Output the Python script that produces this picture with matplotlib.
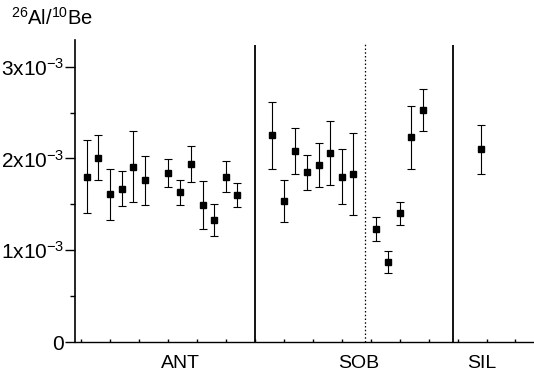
import matplotlib.pyplot as plt
import numpy as np

plt.rcParams['font.family'] = ['Liberation Sans', 'DejaVu Sans']
plt.rcParams['mathtext.fontset'] = 'custom'
plt.rcParams['mathtext.rm'] = 'Liberation Sans'
plt.rcParams['mathtext.default'] = 'regular'

# 26Al/10Be ratios with 1-sigma errors, grouped by site
ant_x = [1, 2, 3, 4, 5, 6, 8, 9, 10, 11, 12, 13, 14]
ant_y = [1.80e-3, 2.01e-3, 1.61e-3, 1.67e-3, 1.91e-3, 1.76e-3, 1.84e-3,
         1.63e-3, 1.94e-3, 1.49e-3, 1.33e-3, 1.80e-3, 1.60e-3]
ant_err = [0.40e-3, 0.25e-3, 0.28e-3, 0.19e-3, 0.39e-3, 0.27e-3, 0.15e-3,
           0.14e-3, 0.20e-3, 0.26e-3, 0.17e-3, 0.17e-3, 0.13e-3]

sob_x = [17, 18, 19, 20, 21, 22, 23, 24, 26, 27, 28, 29, 30]
sob_y = [2.25e-3, 1.54e-3, 2.08e-3, 1.85e-3, 1.93e-3, 2.06e-3, 1.80e-3,
         1.83e-3, 1.23e-3, 0.875e-3, 1.40e-3, 2.23e-3, 2.53e-3]
sob_err = [0.36e-3, 0.23e-3, 0.25e-3, 0.19e-3, 0.24e-3, 0.35e-3, 0.30e-3,
           0.445e-3, 0.134e-3, 0.12e-3, 0.127e-3, 0.34e-3, 0.23e-3]

sil_x = [35]
sil_y = [2.10e-3]
sil_err = [0.265e-3]

groups = ['ANT', 'SOB', 'SIL']
group_label_x = [9.1, 24.5, 35.1]
separators = [15.5, 32.6]
sob_split = 25

yticks = [0, 1e-3, 2e-3, 3e-3]
ytick_labels = ['0', '1x10$^{-3}$', '2x10$^{-3}$', '3x10$^{-3}$']

fig = plt.figure(figsize=(5.34, 3.76), dpi=100)
ax = fig.add_axes([0.141, 0.0904, 0.859, 0.8032])

for xs, ys, es in [(ant_x, ant_y, ant_err), (sob_x, sob_y, sob_err), (sil_x, sil_y, sil_err)]:
    ax.errorbar(xs, ys, yerr=es, fmt='s', color='black', ms=5, ecolor='black',
                elinewidth=0.8, capsize=2.6, capthick=0.8)

for s in separators:
    ax.vlines(s, 0, 3.235e-3, color='black', lw=1.3)
ax.vlines(sob_split, 0, 3.25e-3, color='black', lw=0.9, linestyles=(0, (1.2, 1.8)))

ax.set_xlim(0, 39.6)
ax.set_ylim(0, 3.29e-3)
ax.set_yticks(yticks)
ax.set_yticklabels(ytick_labels)
ax.set_yticks([0.5e-3, 1.5e-3, 2.5e-3], minor=True)
ax.tick_params(axis='y', which='major', length=7, width=1, labelsize=15, pad=1)
ax.tick_params(axis='y', which='minor', length=3.5, width=1)
ax.set_xticks(np.arange(0.5, 39.6, 2.5))
ax.set_xticklabels([])
ax.tick_params(axis='x', direction='in', length=2, width=1)

for sp in ['top', 'right']:
    ax.spines[sp].set_visible(False)
ax.spines['left'].set_linewidth(1.2)
ax.spines['bottom'].set_linewidth(1.0)

for g, gx in zip(groups, group_label_x):
    ax.text(gx, -0.072, g, transform=ax.get_xaxis_transform(),
            ha='center', va='center', fontsize=14)

fig.text(0.021, 0.952, '$^{26}$Al/$^{10}$Be', fontsize=14.5, ha='left', va='center')

fig.savefig('out.png', dpi=100)
